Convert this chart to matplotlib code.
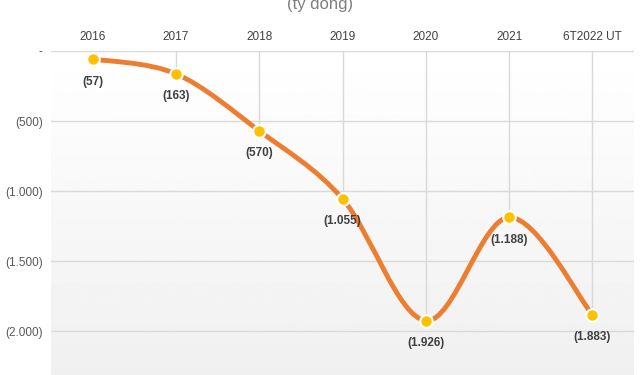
import matplotlib
matplotlib.use("Agg")
import matplotlib.pyplot as plt
import numpy as np
from matplotlib.path import Path
from matplotlib.patches import PathPatch

# data
categories = ["2016", "2017", "2018", "2019", "2020", "2021", "6T2022 UT"]
values = [-57, -163, -570, -1055, -1926, -1188, -1883]
labels = ["(57)", "(163)", "(570)", "(1.055)", "(1.926)", "(1.188)", "(1.883)"]
yticks = [0, -500, -1000, -1500, -2000]
yticklabels = ["-", "(500)", "(1.000)", "(1.500)", "(2.000)"]

plt.rcParams["font.family"] = ["Liberation Sans", "DejaVu Sans"]

fig = plt.figure(figsize=(6.4, 3.75), dpi=100)
ax = fig.add_axes([51 / 640, 0.0, 583 / 640, 1 - 51 / 375])

x = np.arange(len(categories))
ax.set_xlim(-0.5, len(categories) - 0.5)
ax.set_ylim(-2314, 0)

# gradient background
grad = np.linspace(1.0, 0.94, 256).reshape(-1, 1)
ax.imshow(grad, extent=[-0.5, len(categories) - 0.5, -2314, 0], aspect="auto",
          cmap="gray", vmin=0, vmax=1, zorder=0, origin="upper")

for t in yticks:
    ax.axhline(t, color="#d9d9d9", lw=1, zorder=1)

# drop lines
ax.vlines(x, values, 0, color="#d9d9d9", lw=1, zorder=1)

# smooth line (Excel-like bezier through points)
pts = np.column_stack([x, values]).astype(float)
verts = [tuple(pts[0])]
codes = [Path.MOVETO]
n = len(pts)
for i in range(n - 1):
    p0 = pts[i - 1] if i > 0 else pts[i]
    p1 = pts[i]
    p2 = pts[i + 1]
    p3 = pts[i + 2] if i + 2 < n else pts[i + 1]
    c1 = p1 + (p2 - p0) / 6
    c2 = p2 - (p3 - p1) / 6
    verts += [tuple(c1), tuple(c2), tuple(p2)]
    codes += [Path.CURVE4] * 3
ax.add_patch(PathPatch(Path(verts, codes), fc="none", ec="#ED7D31", lw=3.5,
                       capstyle="round", zorder=3))

ax.plot(x, values, "o", ms=9, mfc="#FFC000", mec="white", mew=1.5, zorder=4)

for xi, v, lab in zip(x, values, labels):
    ax.annotate(lab, (xi, v), xytext=(0, -12), textcoords="offset points",
                ha="center", va="top", fontsize=8.5, fontweight="bold",
                color="#404040", zorder=5)

ax.xaxis.tick_top()
ax.set_xticks(x)
ax.set_xticklabels(categories, fontsize=8.5, color="#404040")
ax.set_yticks(yticks)
ax.set_yticklabels(yticklabels, fontsize=8.5, color="#595959")
ax.tick_params(length=0, pad=6)
for s in ax.spines.values():
    s.set_visible(False)

fig.text(0.5, 1 - 4 / 375, "(tỷ đồng)", ha="center", va="center",
         fontsize=12, color="#7f7f7f")

fig.savefig("out.png", dpi=100)
